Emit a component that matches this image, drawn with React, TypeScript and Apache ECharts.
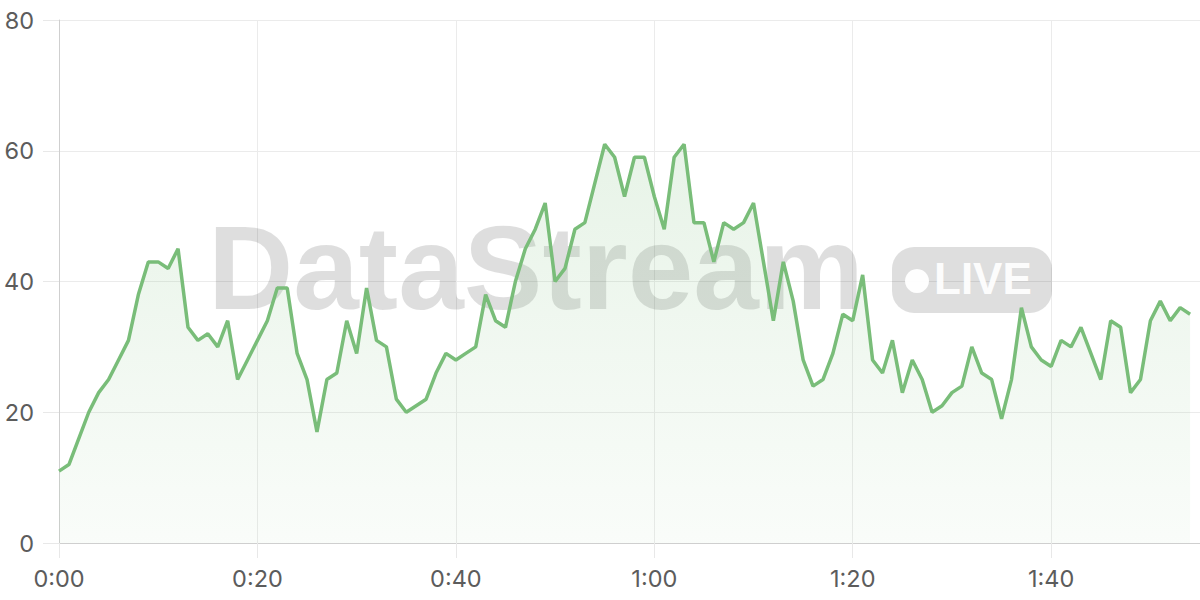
import React, { useEffect, useRef } from "react";
import * as echarts from "echarts";

// seconds since start
const seconds: number[] = Array.from({ length: 115 }, (_, i) => i);

const values: number[] = [
  11, 12, 16, 20, 23, 25, 28, 31, 38, 43,
  43, 42, 45, 33, 31, 32, 30, 34, 25, 28,
  31, 34, 39, 39, 29, 25, 17, 25, 26, 34,
  29, 39, 31, 30, 22, 20, 21, 22, 26, 29,
  28, 29, 30, 38, 34, 33, 40, 45, 48, 52,
  40, 42, 48, 49, 55, 61, 59, 53, 59, 59,
  53, 48, 59, 61, 49, 49, 43, 49, 48, 49,
  52, 43, 34, 43, 37, 28, 24, 25, 29, 35,
  34, 41, 28, 26, 31, 23, 28, 25, 20, 21,
  23, 24, 30, 26, 25, 19, 25, 36, 30, 28,
  27, 31, 30, 33, 29, 25, 34, 33, 23, 25,
  34, 37, 34, 36, 35,
];

const yTicks: number[] = [0, 20, 40, 60, 80];
const xTickSeconds: number[] = [0, 20, 40, 60, 80, 100];

const watermarkText = "DataStream";
const badgeText = "LIVE";

function fmtTime(v: number): string {
  const m = Math.floor(v / 60);
  const s = Math.round(v % 60);
  return `${m}:${String(s).padStart(2, "0")}`;
}

export default function App() {
  const ref = useRef<HTMLDivElement>(null);

  useEffect(() => {
    if (!ref.current) return;
    const chart = echarts.init(ref.current, undefined, { renderer: "svg" });
    const lineColor = "#79bd79";
    chart.setOption({
      animation: false,
      backgroundColor: "#ffffff",
      grid: { left: 59, right: 0, top: 20, bottom: 57, containLabel: false },
      xAxis: {
        type: "value",
        min: 0,
        max: 115,
        interval: 20,
        axisLine: { show: true, lineStyle: { color: "#cfcfcf", width: 1 } },
        axisTick: { show: true, length: 15, lineStyle: { color: "#e8e8e8" } },
        splitLine: { show: true, lineStyle: { color: "#ebebeb", width: 1 } },
        axisLabel: {
          showMaxLabel: false,
          margin: 23,
          color: "#5c5c5c",
          fontSize: 23.5,
          fontFamily: "Inter, 'Noto Sans', sans-serif",
          formatter: (v: number) => (xTickSeconds.includes(v) ? fmtTime(v) : ""),
        },
      },
      yAxis: {
        type: "value",
        min: yTicks[0],
        max: yTicks[yTicks.length - 1],
        interval: 20,
        axisLine: { show: true, lineStyle: { color: "#cfcfcf", width: 1 } },
        axisTick: { show: true, length: 16, lineStyle: { color: "#e8e8e8" } },
        splitLine: { show: true, lineStyle: { color: "#ebebeb", width: 1 } },
        axisLabel: {
          margin: 25,
          color: "#5c5c5c",
          fontSize: 23.5,
          fontFamily: "Inter, 'Noto Sans', sans-serif",
        },
      },
      graphic: [
        {
          type: "text",
          z: 1,
          left: 208,
          top: 209,
          style: {
            text: watermarkText,
            fill: "rgba(0,0,0,0.13)",
            font: "bold 118px 'Liberation Sans', Arial, sans-serif",
          },
        },
        {
          type: "rect",
          z: 1,
          shape: { x: 892, y: 247, width: 160, height: 66, r: 22 },
          style: { fill: "rgba(0,0,0,0.13)" },
        },
        {
          type: "circle",
          z: 1,
          shape: { cx: 917, cy: 281, r: 12 },
          style: { fill: "rgba(255,255,255,0.95)" },
        },
        {
          type: "text",
          z: 1,
          left: 934,
          top: 256,
          style: {
            text: badgeText,
            fill: "rgba(255,255,255,0.95)",
            font: "bold 44px 'Liberation Sans', Arial, sans-serif",
          },
        },
      ],
      series: [
        {
          type: "line",
          data: seconds.map((s, i) => [s, values[i]]),
          showSymbol: false,
          symbol: "none",
          lineStyle: { color: lineColor, width: 3.5 },
          itemStyle: { color: lineColor },
          areaStyle: {
            color: new echarts.graphic.LinearGradient(0, 0, 0, 1, [
              { offset: 0, color: "rgba(121,189,121,0.25)" },
              { offset: 1, color: "rgba(121,189,121,0.06)" },
            ]),
          },
        },
      ],
    });
    return () => chart.dispose();
  }, []);

  return (
    <div
      ref={ref}
      style={{ width: 1200, height: 600, position: "absolute", left: 0, top: 0 }}
    />
  );
}
